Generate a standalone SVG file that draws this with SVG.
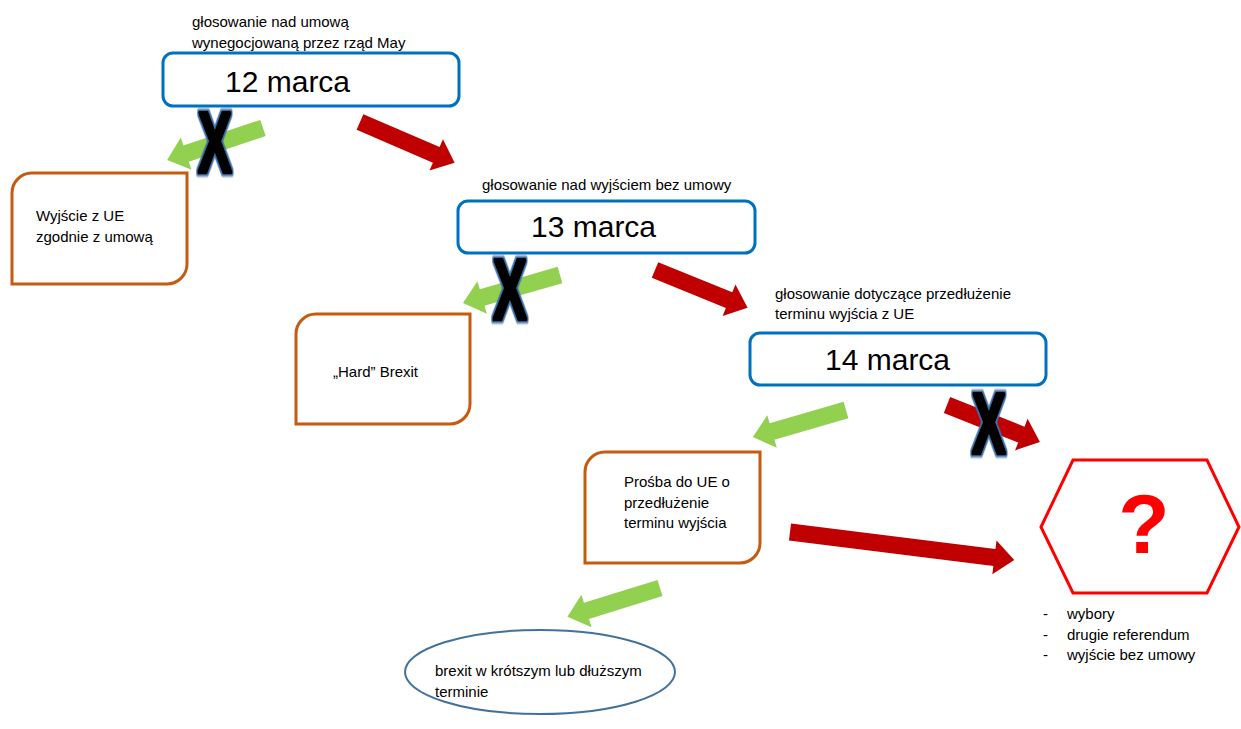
<svg xmlns="http://www.w3.org/2000/svg" width="1241" height="729" viewBox="0 0 1241 729">
<defs>
<style>
text{font-family:"Liberation Sans",Arial,sans-serif;fill:#000}
.sm{font-size:15px}
.big{font-size:30px}
.blue{fill:#fff;stroke:#0070c0;stroke-width:3}
.orange{fill:#fff;stroke:#c55a11;stroke-width:3}
.ga{fill:#92d050}
.ra{fill:#c00000}
.x{font-size:86px;font-weight:bold;fill:#000;stroke:#000;stroke-width:5;stroke-linejoin:round;text-anchor:middle;filter:url(#glow)}
</style>
<filter id="glow" x="-30%" y="-30%" width="160%" height="160%">
<feMorphology in="SourceAlpha" operator="dilate" radius="1.8" result="d"/>
<feGaussianBlur in="d" stdDeviation="0.8" result="b"/>
<feFlood flood-color="#3d6fa8"/>
<feComposite in2="b" operator="in" result="g"/>
<feMerge><feMergeNode in="g"/><feMergeNode in="SourceGraphic"/></feMerge>
</filter>
</defs>
<rect width="1241" height="729" fill="#fff"/>

<g id="connectors">
<polygon class="ga" points="0,-8.5 81,-8.5 81,-17 101,0 81,17 81,8.5 0,8.5" transform="translate(263,128) rotate(161.6)"/>
<polygon class="ra" points="0,-8.5 83,-8.5 83,-17 103,0 83,17 83,8.5 0,8.5" transform="translate(360,122) rotate(23.3)"/>
<polygon class="ga" points="0,-8.5 81,-8.5 81,-17 101,0 81,17 81,8.5 0,8.5" transform="translate(560,275) rotate(163.9)"/>
<polygon class="ra" points="0,-8.5 80,-8.5 80,-17 100,0 80,17 80,8.5 0,8.5" transform="translate(655,270) rotate(22.2)"/>
<polygon class="ga" points="0,-8.5 77,-8.5 77,-17 97,0 77,17 77,8.5 0,8.5" transform="translate(846,410) rotate(163.8)"/>
<polygon class="ra" points="0,-8.5 80,-8.5 80,-17 100,0 80,17 80,8.5 0,8.5" transform="translate(947,405) rotate(21.7)"/>
<polygon class="ra" points="0,-8.5 206,-8.5 206,-17 226,0 206,17 206,8.5 0,8.5" transform="translate(790,532) rotate(7.1)"/>
<polygon class="ga" points="0,-8.5 77,-8.5 77,-17 97,0 77,17 77,8.5 0,8.5" transform="translate(660,588) rotate(162.7)"/>
<text class="x" transform="translate(215,172) scale(0.58,1)">X</text>
<text class="x" transform="translate(510,319) scale(0.58,1)">X</text>
<text class="x" transform="translate(989,453) scale(0.58,1)">X</text>
</g>

<g id="n12">
<text class="sm" x="192" y="27">głosowanie nad umową</text>
<text class="sm" x="192" y="48">wynegocjowaną przez rząd May</text>
<rect class="blue" x="163" y="53" width="296" height="53" rx="10"/>
<text class="big" x="225" y="92">12 marca</text>
</g>

<g id="n13">
<text class="sm" x="482" y="190">głosowanie nad wyjściem bez umowy</text>
<rect class="blue" x="458" y="201" width="297" height="52" rx="10"/>
<text class="big" x="531" y="237">13 marca</text>
</g>

<g id="n14">
<text class="sm" x="775" y="299">głosowanie dotyczące przedłużenie</text>
<text class="sm" x="775" y="319">terminu wyjścia z UE</text>
<rect class="blue" x="750" y="333" width="296" height="52" rx="10"/>
<text class="big" x="825" y="370">14 marca</text>
</g>

<g id="wyjscie">
<path class="orange" d="M32,173 H187 V264 A20,20 0 0 1 167,284 H12 V193 A20,20 0 0 1 32,173 Z"/>
<text class="sm" x="36" y="221">Wyjście z UE</text>
<text class="sm" x="36" y="242">zgodnie z umową</text>
</g>

<g id="hard">
<path class="orange" d="M316,314 H470 V404 A20,20 0 0 1 450,424 H296 V334 A20,20 0 0 1 316,314 Z"/>
<text class="sm" x="333" y="377">„Hard” Brexit</text>
</g>

<g id="prosba">
<path class="orange" d="M605,452 H760 V543 A20,20 0 0 1 740,563 H585 V472 A20,20 0 0 1 605,452 Z"/>
<text class="sm" x="624" y="487">Prośba do UE o</text>
<text class="sm" x="624" y="508">przedłużenie</text>
<text class="sm" x="624" y="528">terminu wyjścia</text>
</g>

<g id="brexit">
<ellipse cx="540" cy="672" rx="135" ry="42" fill="#fff" stroke="#41719c" stroke-width="2"/>
<text class="sm" x="435" y="676">brexit w krótszym lub dłuższym</text>
<text class="sm" x="435" y="697">terminie</text>
</g>

<g id="question">
<polygon points="1041,527 1073,460 1207,460 1239,527 1207,593 1073,593" fill="#fff" stroke="#ff0000" stroke-width="3"/>
<text x="1144" y="553" text-anchor="middle" style="font-size:84px;font-weight:bold;fill:#ff0000">?</text>
<text class="sm" x="1043" y="619">-</text>
<text class="sm" x="1067" y="619">wybory</text>
<text class="sm" x="1043" y="640">-</text>
<text class="sm" x="1067" y="640">drugie referendum</text>
<text class="sm" x="1043" y="660">-</text>
<text class="sm" x="1067" y="660">wyjście bez umowy</text>
</g>
</svg>
